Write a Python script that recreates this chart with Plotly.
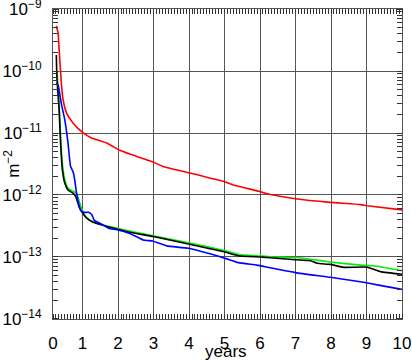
import plotly.graph_objects as go

# ---- data ----
red_x = [0.26, 0.31, 0.34, 0.38, 0.41, 0.45, 0.55, 0.73, 1.0, 1.25, 1.68, 2.05, 2.33, 2.99, 3.27,
         3.98, 5.02, 5.25, 6.0, 6.2, 7.0, 7.98, 8.83, 9.02, 10.0]
red_y = [5.37e-10, 4.07e-10, 2.19e-10, 9.77e-11, 5.62e-11, 3.47e-11, 2.09e-11, 1.45e-11, 1.02e-11,
         8.3e-12, 6.9e-12, 5.25e-12, 4.57e-12, 3.39e-12, 2.88e-12, 2.29e-12, 1.62e-12, 1.45e-12,
         1.135e-12, 1.05e-12, 8.7e-13, 7.6e-13, 7.0e-13, 6.7e-13, 5.75e-13]

black_x = [0.26, 0.28, 0.34, 0.38, 0.43, 0.5, 0.59, 0.73, 0.81, 0.9, 1.0, 1.11, 1.3, 1.58, 1.96,
           2.33, 2.99, 3.98, 5.02, 5.39, 6.01, 6.29, 7.0, 7.42, 7.61, 7.98, 8.36, 9.02, 9.4, 10.0]
black_y = [1.82e-10, 7.24e-11, 2.34e-11, 6.9e-12, 2.57e-12, 1.55e-12, 1.2e-12, 1.07e-12, 9.3e-13,
           6.5e-13, 5.1e-13, 4.27e-13, 3.63e-13, 3.24e-13, 2.82e-13, 2.5e-13, 2.14e-13, 1.62e-13,
           1.2e-13, 1.05e-13, 1.0e-13, 9.7e-14, 9.0e-14, 8.7e-14, 7.9e-14, 7.6e-14, 6.8e-14,
           6.85e-14, 5.8e-14, 5.25e-14]

green_x = [0.28, 0.34, 0.38, 0.43, 0.5, 0.59, 0.73, 0.83, 0.92, 1.01, 1.15, 1.39, 1.76, 2.05,
           2.99, 3.98, 5.02, 5.39, 6.01, 6.29, 7.0, 7.42, 7.98, 8.83, 9.2, 10.0]
green_y = [9.8e-11, 3.0e-11, 8.7e-12, 3.24e-12, 1.74e-12, 1.29e-12, 1.15e-12, 1.07e-12, 7.4e-13,
           5.4e-13, 4.07e-13, 3.5e-13, 3.1e-13, 2.82e-13, 2.19e-13, 1.7e-13, 1.26e-13, 1.1e-13,
           1.04e-13, 1.01e-13, 9.8e-14, 9.2e-14, 8.3e-14, 7.4e-14, 7.2e-14, 6.0e-14]

blue_x = [0.26, 0.31, 0.40, 0.5, 0.59, 0.66, 0.73, 0.78, 0.83, 0.94, 1.03, 1.17, 1.26, 1.33, 1.45,
          1.73, 1.96, 2.33, 2.71, 2.99, 3.37, 3.98, 5.02, 5.39, 5.91, 6.29, 7.0, 7.98, 8.92, 9.3, 10.0]
blue_y = [6.4e-11, 6.0e-11, 3.0e-11, 1.62e-11, 6.9e-12, 2.9e-12, 2.4e-12, 1.74e-12, 1.07e-12,
          5.75e-13, 5.25e-13, 5.25e-13, 4.8e-13, 3.9e-13, 3.6e-13, 2.92e-13, 2.75e-13, 2.4e-13,
          1.88e-13, 1.8e-13, 1.51e-13, 1.38e-13, 9.5e-14, 8.1e-14, 7.4e-14, 6.7e-14, 5.6e-14,
          4.7e-14, 3.9e-14, 3.55e-14, 3.0e-14]

x_tick_vals = [1/6, 1, 2, 3, 4, 5, 6, 7, 8, 9, 10]
x_tick_text = ["0", "1", "2", "3", "4", "5", "6", "7", "8", "9", "10"]
y_tick_vals = [1e-14, 1e-13, 1e-12, 1e-11, 1e-10, 1e-9]
y_tick_text = ["10<sup>−14</sup>", "10<sup>−13</sup>", "10<sup>−12</sup>",
               "10<sup>−11</sup>", "10<sup>−10</sup>", "10<sup>−9</sup>"]
x_title = "years"
y_title = "m<sup>−2</sup>"

fig = go.Figure()
for xs, ys, col in [(red_x, red_y, "#ff0000"), (green_x, green_y, "#00ee00"),
                    (black_x, black_y, "#000000"), (blue_x, blue_y, "#0000ff")]:
    fig.add_trace(go.Scatter(x=xs, y=ys, mode="lines",
                             line=dict(color=col, width=1.6, shape="spline", smoothing=0.4),
                             showlegend=False, hoverinfo="skip"))

grid_col = "#555555"
fig.update_layout(
    width=412, height=361,
    margin=dict(l=53, r=10, t=9, b=42),
    paper_bgcolor="white", plot_bgcolor="white",
    font=dict(family="Liberation Sans, Arial, sans-serif", size=16, color="black"),
    showlegend=False,
    annotations=[
        dict(text=x_title, xref="paper", yref="paper", x=0.495, y=-0.104,
             xanchor="center", yanchor="middle", showarrow=False, font=dict(size=17)),
        dict(text=y_title, xref="paper", yref="paper", x=-0.118, y=0.50,
             xanchor="center", yanchor="middle", textangle=-90, showarrow=False,
             font=dict(size=17)),
    ],
)
fig.update_xaxes(
    range=[1/6, 10], tickmode="array", tickvals=x_tick_vals, ticktext=x_tick_text,
    showgrid=True, gridcolor=grid_col, gridwidth=1, automargin=False,
    showline=True, linecolor=grid_col, linewidth=1, mirror="allticks",
    ticks="", zeroline=False, ticklabelstandoff=9, ticklabeloverflow="allow",
    minor=dict(dtick=1/12, tick0=0, ticks="inside", ticklen=5, tickcolor="#333", showgrid=False),
    tickfont=dict(size=17),
)
fig.update_yaxes(
    type="log", range=[-14.0005, -8.9995], tickmode="array", tickvals=y_tick_vals,
    ticktext=y_tick_text, automargin=False,
    showgrid=True, gridcolor=grid_col, gridwidth=1,
    showline=True, linecolor=grid_col, linewidth=1, mirror="allticks",
    ticks="", zeroline=False, ticklabelstandoff=7, ticklabeloverflow="allow",
    minor=dict(dtick="D1", ticks="inside", ticklen=5, tickcolor="#333", showgrid=False),
    tickfont=dict(size=17),
)

fig.write_html("out.html", config={"displayModeBar": False},
               post_script="document.body.style.margin='0';document.body.style.padding='0';")
